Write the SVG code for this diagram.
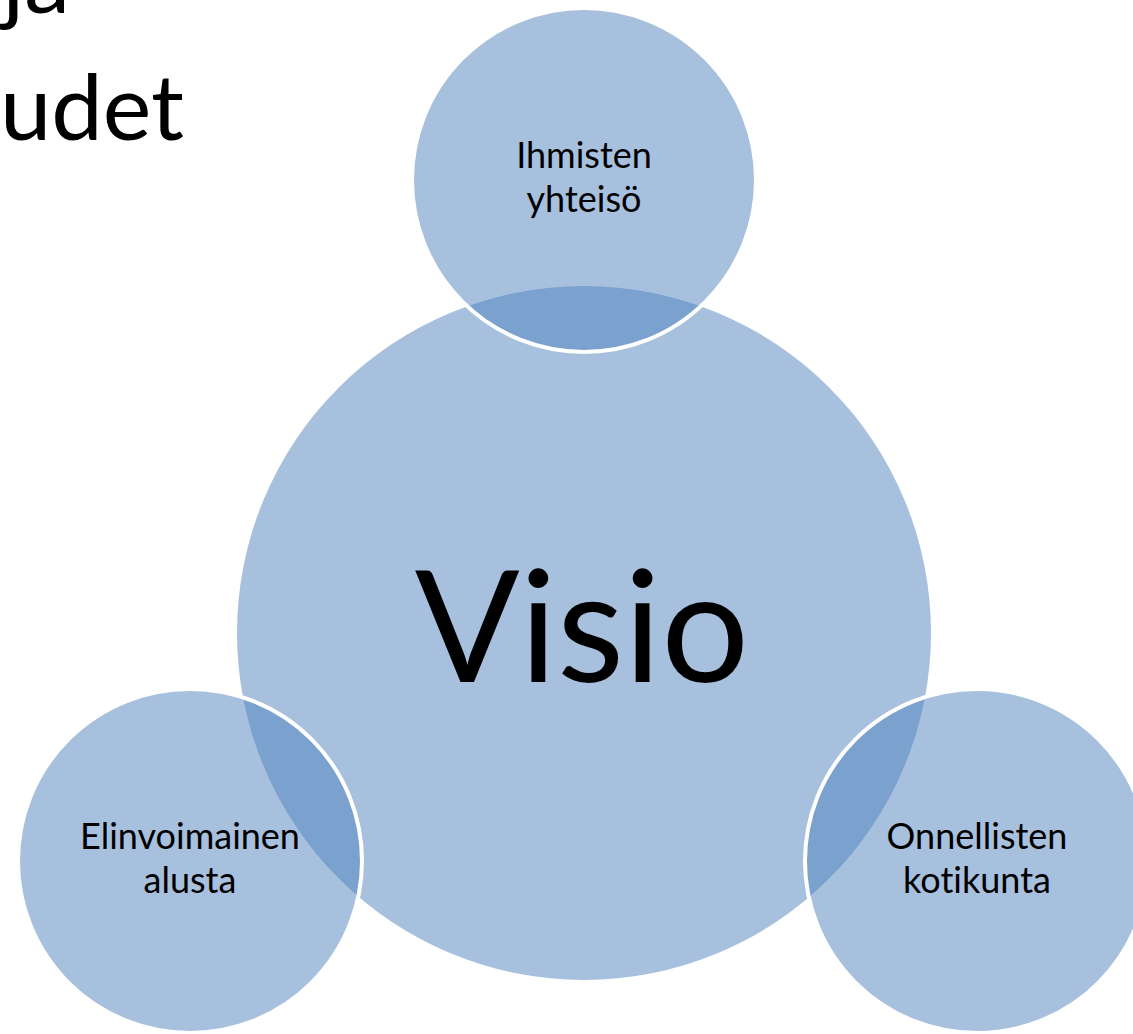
<svg xmlns="http://www.w3.org/2000/svg" width="1133" height="1034" viewBox="0 0 1133 1034">
<style>
.c{fill:#4F81BD;fill-opacity:0.5}
.s{stroke:#FFFFFF;stroke-width:4}
.t{font-family:Lato,"Open Sans","Liberation Sans",sans-serif;fill:#000000;text-anchor:middle;font-variant-ligatures:none;font-feature-settings:"liga" 0,"clig" 0}
.lbl{font-size:36px}
</style>
<rect x="0" y="0" width="1133" height="1034" fill="#FFFFFF"/>
<g id="title">
<text class="t" x="70" y="13" style="font-size:92px;text-anchor:end">ja</text>
<text class="t" x="184" y="140" style="font-size:92px;text-anchor:end">udet</text>
</g>
<g id="connectors"></g>
<g id="node-visio">
<circle class="c" cx="584" cy="633" r="347"/>
<text class="t" x="582" y="682" style="font-size:155px">Visio</text>
</g>
<g id="node-ihmisten">
<circle class="c s" cx="584" cy="180" r="172"/>
<text class="t lbl" x="584" y="168">Ihmisten</text>
<text class="t lbl" x="584" y="212">yhteisö</text>
</g>
<g id="node-elinvoimainen">
<circle class="c s" cx="190" cy="861" r="172"/>
<text class="t lbl" x="190" y="849">Elinvoimainen</text>
<text class="t lbl" x="190" y="893">alusta</text>
</g>
<g id="node-onnellisten">
<circle class="c s" cx="977" cy="861" r="172"/>
<text class="t lbl" x="977" y="849">Onnellisten</text>
<text class="t lbl" x="977" y="893">kotikunta</text>
</g>
</svg>
